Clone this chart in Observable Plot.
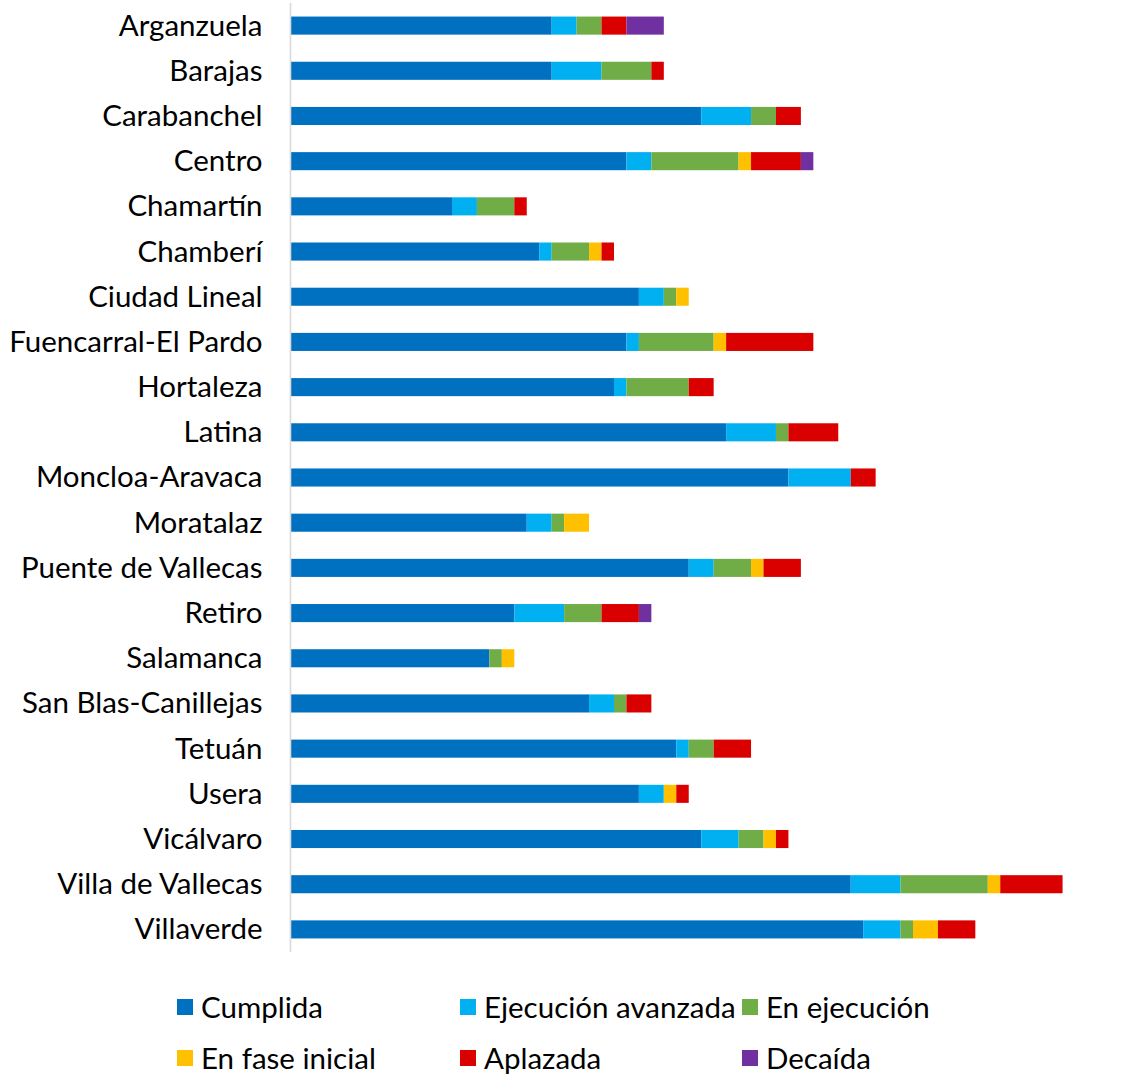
<!DOCTYPE html>
<html><head><meta charset="utf-8">
<script src="https://cdn.jsdelivr.net/npm/d3@7"></script>
<script src="https://cdn.jsdelivr.net/npm/@observablehq/plot@0.6"></script>
<style>
body{margin:0;background:#fff;font-family:Lato,sans-serif;}
#wrap{position:relative;width:1136px;height:1077px;}
.leg{position:absolute;display:flex;align-items:center;height:30px;font-size:29.5px;line-height:30px;color:#000;white-space:nowrap;}
.sw{width:16px;height:16px;margin-right:8px;flex:none;}
</style></head><body><div id="wrap"></div>
<script>
const districts = ["Arganzuela","Barajas","Carabanchel","Centro","Chamartín","Chamberí","Ciudad Lineal","Fuencarral-El Pardo","Hortaleza","Latina","Moncloa-Aravaca","Moratalaz","Puente de Vallecas","Retiro","Salamanca","San Blas-Canillejas","Tetuán","Usera","Vicálvaro","Villa de Vallecas","Villaverde"];
const statuses = ["Cumplida","Ejecución avanzada","En ejecución","En fase inicial","Aplazada","Decaída"];
const colors = ["#0070C0","#00B0F0","#70AD47","#FFC000","#DA0000","#7030A0"];
const cumplida   = [21,21,33,27,13,20,28,27,26,35,40,19,32,18,16,24,31,28,33,45,46];
const ejecAvanz  = [2,4,4,2,2,1,2,1,1,4,5,2,2,4,0,2,1,2,3,4,3];
const enEjec     = [2,4,2,7,3,3,1,6,5,1,0,1,3,3,1,1,2,0,2,7,1];
const faseInic   = [0,0,0,1,0,1,1,1,0,0,0,2,1,0,1,0,0,1,1,1,2];
const aplazada   = [2,1,2,4,1,1,0,7,2,4,2,0,3,3,0,2,3,1,1,5,3];
const decaida    = [3,0,0,1,0,0,0,0,0,0,0,0,0,1,0,0,0,0,0,0,0];
const series = [cumplida, ejecAvanz, enEjec, faseInic, aplazada, decaida];

const rows = [];
districts.forEach((d, i) => {
  series.forEach((s, k) => {
    if (s[i] > 0) rows.push({district: d, status: statuses[k], value: s[i]});
  });
});

const chart = Plot.plot({
  width: 1136,
  height: 975,
  marginLeft: 290,
  marginRight: 23.6,
  marginTop: 3,
  marginBottom: 23,
  style: {fontFamily: "Lato, sans-serif", background: "#fff", color: "#000"},
  x: {domain: [0, 66], axis: null},
  y: {domain: districts, paddingInner: 0.6, paddingOuter: 0.3, round: false, label: null, axis: null},
  color: {domain: statuses, range: colors},
  marks: [
    Plot.barX(rows, Plot.stackX({x: "value", y: "district", fill: "status", order: statuses})),
    Plot.ruleX([0], {stroke: "#d9d9d9", strokeWidth: 1.6}),
    Plot.axisY({tickSize: 0, tickPadding: 28, fontSize: 29.5, label: null, fill: "#000"})
  ]
});
const wrap = document.getElementById("wrap");
wrap.appendChild(chart);

const legPos = [[177,999],[460,999],[742,999],[177,1050],[460,1050],[742,1050]];
statuses.forEach((s, k) => {
  const it = document.createElement("div");
  it.className = "leg";
  it.style.left = legPos[k][0] + "px";
  it.style.top = (legPos[k][1] + 8 - 15) + "px";
  const sw = document.createElement("div");
  sw.className = "sw";
  sw.style.background = colors[k];
  const t = document.createElement("span");
  t.textContent = s;
  it.appendChild(sw); it.appendChild(t);
  wrap.appendChild(it);
});
</script></body></html>
